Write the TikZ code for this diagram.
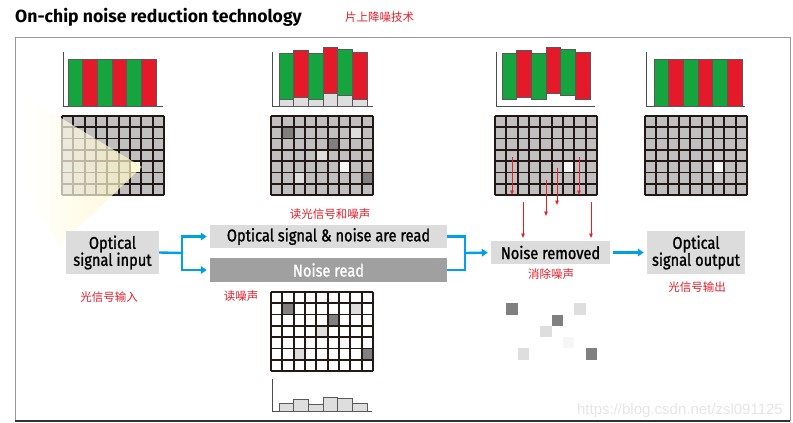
\documentclass[tikz,border=0pt]{standalone}
\usepackage{fontspec}
\setmainfont{Fira Sans}
\newfontfamily\boxfont[FakeStretch=0.86, FakeBold=1.2]{Fira Sans}
\newfontfamily\cjk{Noto Sans CJK SC}
\newfontfamily\webfont{Liberation Sans}
\usetikzlibrary{arrows.meta}

\definecolor{barGreen}{RGB}{22,164,62}
\definecolor{barRed}{RGB}{228,26,42}
\definecolor{cellGray}{RGB}{192,192,192}
\definecolor{gridInk}{RGB}{35,24,21}
\definecolor{flowBlue}{RGB}{0,160,233}
\definecolor{noteRed}{RGB}{230,30,40}
\definecolor{boxLight}{RGB}{220,220,220}
\definecolor{boxDark}{RGB}{160,160,160}
\definecolor{noiseDark}{RGB}{128,128,128}
\definecolor{noiseLight}{RGB}{222,222,222}
\definecolor{noiseWhite}{RGB}{246,246,246}
\definecolor{beamYellow}{RGB}{255,246,190}

\tikzset{
  flowbox/.style={fill=boxLight, inner sep=0pt, align=center,
    font=\boxfont\fontsize{17}{17}\selectfont},
  note/.style={text=noteRed, font=\cjk\fontsize{11.5}{13}\selectfont, inner sep=0pt},
  flowline/.style={draw=flowBlue, line width=2.4pt},
  flowarrow/.style={flowline, -{Triangle[length=6pt,width=7.5pt]}},
  dropline/.style={draw=noteRed, line width=0.9pt, -{Triangle[length=4.5pt,width=3.5pt]}},
  axisline/.style={draw=black!70, line width=0.9pt},
  barbox/.style={draw=black!65, line width=0.5pt},
  gridline/.style={draw=gridInk, line width=1.8pt},
  frameline/.style={draw=black!40, line width=1pt},
}

% sensor grid: #1 = left, #2 = top
\newcommand{\pixcells}[3]{\fill[#3] (#1,#2) rectangle ++(102,79);}
\newcommand{\noisecells}[2]{%
  \foreach \c/\r/\tone in {1/1/noiseDark, 7/1/noiseLight, 5/2/noiseDark, 4/3/noiseLight,
                           6/4/noiseWhite, 2/5/noiseLight, 8/5/noiseDark}
    \fill[\tone] ({#1+\c*11.333},{#2+\r*11.286}) rectangle ++(11.333,11.286);}
\newcommand{\gridlines}[2]{%
  \foreach \gx in {0,...,9} \draw[gridline] ({#1+\gx*11.333},#2) -- ++(0,79);
  \foreach \gy in {0,...,7} \draw[gridline] (#1,{#2+\gy*11.286}) -- ++(102,0);}
% bar chart: #1 = left, #2 = list of top/bottom/colour
\newcommand{\barrow}[2]{%
  \foreach \t/\b/\tone [count=\i from 0] in {#2}
    \filldraw[barbox, fill=\tone] ({#1+\i*14.67},\t) rectangle ({#1+(\i+1)*14.67},\b);}

\begin{document}
\begin{tikzpicture}[x=1pt, y=-1pt]
  \useasboundingbox (0,0) rectangle (793,423);
  % frame and headings
  \draw[frameline] (15,421) -- (15,37) -- (790,37) -- (790,421);
  \draw[black!80, line width=1.2pt] (15,421) -- (790,421);
  \node[anchor=base west, font=\bfseries\fontsize{17.6}{20}\selectfont, inner sep=0pt] (title) at (15,23) {On-chip noise reduction technology};
  \node[note, anchor=west] (titlecn) at (345,17) {片上降噪技术};

  % routine for the bar charts
  \draw[axisline] (63,52) -- (63,106) -- (163,106);
  \barrow{68}{59/106/barGreen, 59/106/barRed, 59/106/barGreen, 59/106/barRed, 59/106/barGreen, 59/106/barRed}
  \draw[axisline] (272,52) -- (272,106) -- (373,106);
  \barrow{279}{99/106/noiseLight, 97/106/noiseLight, 99/106/noiseLight, 93/106/noiseLight, 95/106/noiseLight, 99/106/noiseLight}
  \barrow{279}{53/99/barGreen, 50/97/barRed, 53/99/barGreen, 47/93/barRed, 49/95/barGreen, 52/99/barRed}
  \draw[axisline] (496,52) -- (496,106) -- (595,106);
  \barrow{502}{53/99/barGreen, 50/97/barRed, 53/99/barGreen, 47/93/barRed, 49/95/barGreen, 52/99/barRed}
  \draw[axisline] (646,52) -- (646,106) -- (745,106);
  \barrow{654}{59/106/barGreen, 59/106/barRed, 59/106/barGreen, 59/106/barRed, 59/106/barGreen, 59/106/barRed}
  \draw[axisline] (272,379) -- (272,411) -- (372,411);
  \barrow{279}{403/411/noiseLight, 399/411/noiseLight, 404/411/noiseLight, 397/411/noiseLight, 398/411/noiseLight, 403/411/noiseLight}

  % routine for the sensor grids
  \pixcells{62}{116}{cellGray}
  \fill[white] (130,161.1) rectangle ++(11.333,11.286);
  \gridlines{62}{116}
  \shade[left color=white, right color=beamYellow, opacity=0.7]
    (142,167) -- (28,98) -- (28,200) -- (60,245) -- cycle;
  \pixcells{271}{116}{cellGray}
  \noisecells{271}{116}
  \gridlines{271}{116}
  \pixcells{495}{116}{cellGray}
  \fill[noiseWhite] (563,161.1) rectangle ++(11.333,11.286);
  \gridlines{495}{116}
  \pixcells{645}{116}{cellGray}
  \fill[noiseWhite] (713,161.1) rectangle ++(11.333,11.286);
  \gridlines{645}{116}
  \pixcells{271}{292}{white}
  \noisecells{271}{292}
  \gridlines{271}{292}
  \noisecells{495}{292}

  % noise taken away
  \draw[dropline] (512,157) -- (512,195);
  \draw[dropline] (579,157) -- (579,195);
  \draw[dropline] (557,168) -- (557,205);
  \draw[dropline] (546,180) -- (546,216);
  \draw[dropline] (523,202) -- (523,238);
  \draw[dropline] (591,202) -- (591,238);

  % flow of the signal
  \node[flowbox, minimum width=93, minimum height=43] (inbox) at (112.5,252.5) {Optical\\signal input};
  \node[flowbox, minimum width=237, minimum height=23] (readbox) at (328.5,236.5) {Optical signal \& noise are read};
  \node[flowbox, fill=boxDark, text=white, minimum width=237, minimum height=24] (noisebox) at (328.5,270) {Noise read};
  \node[flowbox, minimum width=119, minimum height=23] (removed) at (550.5,252.5) {Noise removed};
  \node[flowbox, minimum width=98, minimum height=43] (outbox) at (696,252.5) {Optical\\signal output};

  \node[note] (incn) at (109,297) {光信号输入};
  \node[note] (readcn) at (330,214) {读光信号和噪声};
  \node[note] (noisecn) at (241,296) {读噪声};
  \node[note] (removedcn) at (551,274) {消除噪声};
  \node[note] (outcn) at (697,287) {光信号输出};

  \coordinate (split) at (182,253);
  \coordinate (merge) at (465,253);
  \draw[flowline] (inbox.east) -- (split);
  \draw[flowarrow, shorten >=3pt] (split) |- (readbox.west);
  \draw[flowarrow, shorten >=3pt] (split) |- (noisebox.west);
  \draw[flowline] (readbox.east) -| (merge);
  \draw[flowline] (noisebox.east) -| (merge);
  \draw[flowarrow, shorten >=3pt] (merge) -- (removed.west);
  \draw[flowarrow, shorten <=3pt, shorten >=3pt] (removed.east) -- (outbox.west);

  \node[anchor=base east, font=\webfont\fontsize{15}{17}\selectfont, text=black!10, inner sep=0pt] (mark) at (783,414) {https://blog.csdn.net/zsl091125};
\end{tikzpicture}
\end{document}
